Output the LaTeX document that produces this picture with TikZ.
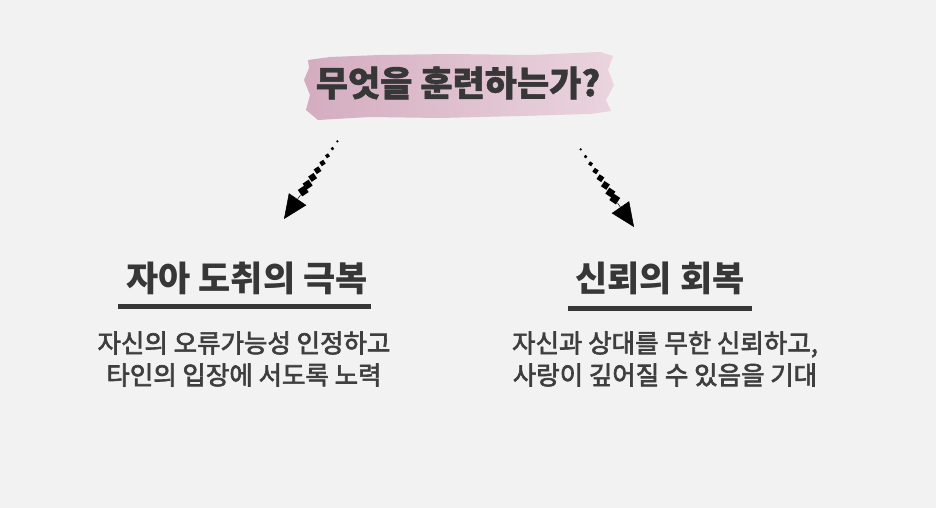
\documentclass[tikz,border=0pt]{standalone}
\usepackage{fontspec}
\usetikzlibrary{calc,arrows.meta}
\newfontfamily\kr{Noto Sans CJK KR}
\newfontfamily\krm{Noto Sans CJK KR}[FakeBold=2.5]
\newfontfamily\krh{Noto Sans CJK KR}[FakeBold=1.2]
\definecolor{bgc}{RGB}{242,242,242}
\definecolor{inkc}{RGB}{55,55,55}
\definecolor{bodyc}{RGB}{62,62,62}
\definecolor{pinkA}{RGB}{212,172,192}
\definecolor{pinkB}{RGB}{234,212,222}
\tikzset{
  titletext/.style={font=\krh\bfseries\fontsize{35}{40}\selectfont, text=inkc, inner sep=0pt},
  headtext/.style={font=\kr\bfseries\fontsize{35}{40}\selectfont, text=inkc, inner sep=0pt},
  bodytext/.style={font=\krm\fontsize{25.5}{32}\selectfont, text=bodyc, align=center, inner sep=0pt},
  underl/.style={line width=5pt, draw=inkc},
  dotsq/.style={fill=black},
  arrhead/.style={-{Triangle[width=21pt,length=24pt]}, line width=0.5pt, black}
}
\begin{document}
\begin{tikzpicture}[x=1pt,y=-1pt]
\fill[bgc] (0,0) rectangle (936,508);
\useasboundingbox (0,0) rectangle (936,508);
% brush background
\shade[left color=pinkA, right color=pinkB]
 (308,60) -- (330,57) -- (380,55) -- (450,54) -- (530,55) -- (600,52) -- (613,56)
 -- (608,70) -- (614,85) -- (606,100) -- (611,111) -- (590,114) -- (520,116)
 -- (440,118) -- (370,117) -- (318,120) -- (306,110) -- (310,95) -- (304,80) -- (309,68) -- cycle;
\node[titletext] (title) at (458,83) {무엇을 훈련하는가?};
% arrows
\coordinate (a1s) at (339,139);
\coordinate (a1e) at (284,219);
\coordinate (a2s) at (579,147);
\coordinate (a2e) at (634,227);
\foreach \t/\s in {0.03/0.9,0.12/1.3,0.21/1.8,0.3/2.3,0.39/2.8,0.48/3.2,0.57/3.6,0.65/3.9}{
  \fill[dotsq, shift={($(a1s)!\t!(a1e)$)}, rotate=34] (-\s,-\s) rectangle (\s,\s);
  \fill[dotsq, shift={($(a2s)!\t!(a2e)$)}, rotate=-34] (-\s,-\s) rectangle (\s,\s);
}
\draw[arrhead] ($(a1s)!0.7!(a1e)$) -- (a1e);
\draw[arrhead] ($(a2s)!0.7!(a2e)$) -- (a2e);
% left column
\node[headtext] (h1) at (247,278) {자아 도취의 극복};
\coordinate (u1a) at (118,306);
\coordinate (u1b) at (371,306);
\draw[underl] (u1a) -- (u1b);
\node[bodytext] (b1) at (244,359) {자신의 오류가능성 인정하고\\타인의 입장에 서도록 노력};
% right column
\node[headtext] (h2) at (660,278) {신뢰의 회복};
\coordinate (u2a) at (568,308);
\coordinate (u2b) at (752,308);
\draw[underl] (u2a) -- (u2b);
\node[bodytext] (b2) at (665,359) {자신과 상대를 무한 신뢰하고,\\사랑이 깊어질 수 있음을 기대};
\end{tikzpicture}
\end{document}
